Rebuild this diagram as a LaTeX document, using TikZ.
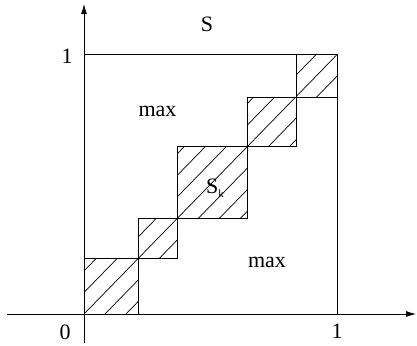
\documentclass[tikz,border=0pt]{standalone}
\usepackage{fontspec}
\setmainfont{Liberation Serif}
\usetikzlibrary{arrows.meta}
\begin{document}
\begin{tikzpicture}[x=1pt,y=-1pt,
  axis/.style={line width=0.9pt,-{Latex[length=10pt,width=6pt]}},
  box/.style={line width=0.8pt},
  hatch/.style={line width=0.7pt},
  lab/.style={font=\fontsize{22}{22}\selectfont, inner sep=0pt}]
\useasboundingbox (0,0) rectangle (417,345);
\coordinate (O) at (84,314);
\coordinate (xend) at (416,314);
\coordinate (xstart) at (7,314);
\coordinate (ystart) at (84,343);
\coordinate (yend) at (84,4);
\coordinate (top1) at (84,54.7);
\coordinate (corner) at (337,54.7);
\coordinate (x1) at (337,314);
\draw[axis] (xstart) -- (xend);
\draw[axis] (ystart) -- (yend);
\draw[box] (top1) -- (corner) -- (x1);
\foreach \a/\b/\c/\d in {84/314/138.7/258.5, 138.7/258.5/177/218.7, 177/218.7/247.3/146.8, 247.3/146.8/296/97, 296/97/337/54.7} {
  \draw[box] (\a,\b) rectangle (\c,\d);
  \begin{scope}
    \clip (\a,\b) rectangle (\c,\d);
    \foreach \k in {-4,...,4}
      \draw[hatch] ({84+\k*21-100},416.5) -- ({84+\k*21+400},-96);
  \end{scope}
}
\node[lab] (S) at (207,24.5) {S};
\node[lab, anchor=base] (max1) at (157.5,116) {max};
\node[lab, anchor=base] (max2) at (267,267) {max};
\node[lab, anchor=base west] (Sk) at (206,193) {S\raisebox{-4pt}{\fontsize{11}{11}\selectfont k}};
\node[lab] (one1) at (67,56) {1};
\node[lab] (one2) at (337,331.5) {1};
\node[lab] (zero) at (65,332) {0};
\end{tikzpicture}
\end{document}
